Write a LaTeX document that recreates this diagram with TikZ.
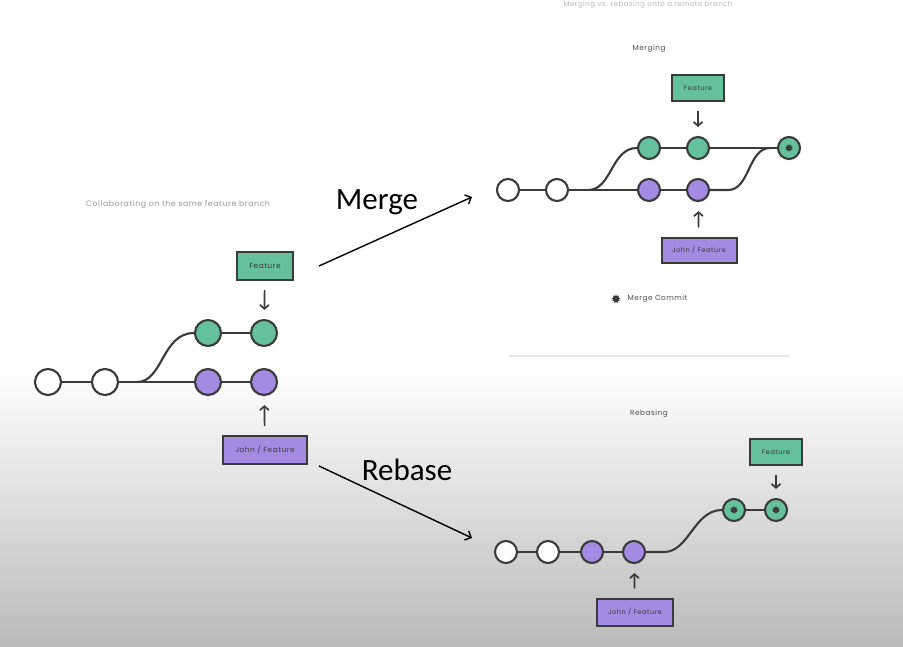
\documentclass[tikz,border=0pt]{standalone}
\usepackage{fontspec}
\setmainfont{Poppins}
\newfontfamily\bigfont{Carlito}
\newfontfamily\labelfont[LetterSpace=7]{Poppins}
\usetikzlibrary{arrows,arrows.meta,shapes.geometric}
\definecolor{featgreen}{RGB}{100,193,155}
\definecolor{johnpurple}{RGB}{164,138,226}
\definecolor{linegray}{RGB}{58,58,58}
\definecolor{captiongray}{RGB}{150,150,150}
\definecolor{floorgray}{RGB}{186,186,186}
\tikzset{
     commit/.style = {circle, draw=linegray, line width=2.1pt, inner sep=0pt, minimum size=22pt},
     big/.style = {minimum size=26pt},
     newc/.style = {fill=white},
     greenc/.style = {fill=featgreen},
     purplec/.style = {fill=johnpurple},
     mergestar/.style = {star, star points=9, star point ratio=1.6, fill=linegray, inner sep=0pt, minimum size=8pt},
     branchbox/.style = {draw=linegray, line width=2pt, text=linegray, font=\labelfont\fontsize{7.4}{8}\selectfont},
     history/.style = {linegray, line width=2.1pt},
     pointer/.style = {linegray, -{Straight Barb[length=4pt, width=9pt]}, line width=1.7pt, shorten <=9pt, shorten >=9pt},
     bigarrow/.style = {black, -{Straight Barb[length=5pt, width=10pt]}, line width=1.4pt},
     caption/.style = {text=captiongray, font=\labelfont\fontsize{7.8}{9}\selectfont},
     heading/.style = {text=linegray!90, font=\labelfont\fontsize{7.3}{8}\selectfont},
    }
\begin{document}
\begin{tikzpicture}[x=1pt, y=-1pt]
      \useasboundingbox (0,0) rectangle (903,646);
      \fill[white] (0,0) rectangle (903,372);
      \shade[top color=white, bottom color=floorgray] (0,370) rectangle (903,646);

      % collaborating on the same feature branch
      \node [caption] (lcap) at (178,205) {Collaborating on the same feature branch};
      \node [commit, big, newc] (lw1) at (48,382) {};
      \node [commit, big, newc] (lw2) at (105,382) {};
      \node [commit, big, purplec] (lp1) at (208,382) {};
      \node [commit, big, purplec] (lp2) at (264,382) {};
      \node [commit, big, greenc] (lg1) at (208,333) {};
      \node [commit, big, greenc] (lg2) at (264,333) {};
      \node [branchbox, fill=featgreen, minimum width=56pt, minimum height=28pt] (lfeat) at (265,266) {Feature};
      \node [branchbox, fill=johnpurple, minimum width=84pt, minimum height=28pt] (ljohn) at (265,450) {John / Feature};
      \coordinate (lfork) at (137,382);
      \draw[history] (lw1) -- (lw2) -- (lp1) -- (lp2);
      \draw[history] (lg1) -- (lg2);
      \draw[history] (lfork) .. controls +(26,0) and +(-32,0) .. (lg1.west);
      \draw[pointer] (lfeat) -- (lg2);
      \draw[pointer] (ljohn) -- (lp2);

      % the two ways out
      \coordinate (mergefrom) at (319,266);
      \coordinate (mergeto) at (472,197);
      \coordinate (rebasefrom) at (319,466);
      \coordinate (rebaseto) at (472,538);
      \draw[bigarrow] (mergefrom) -- (mergeto);
      \draw[bigarrow] (rebasefrom) -- (rebaseto);
      \node [font=\bigfont\fontsize{31}{32}\selectfont] (mergelabel) at (377,202) {Merge};
      \node [font=\bigfont\fontsize{31}{32}\selectfont] (rebaselabel) at (407,470) {Rebase};

      % merging
      \node [caption, text=captiongray!70, font=\labelfont\fontsize{7}{8}\selectfont] (title) at (648,5) {Merging vs. rebasing onto a remote branch};
      \node [heading] (mhead) at (649,49) {Merging};
      \node [commit, newc] (mw1) at (508,190) {};
      \node [commit, newc] (mw2) at (557,190) {};
      \node [commit, purplec] (mp1) at (649,190) {};
      \node [commit, purplec] (mp2) at (698,190) {};
      \node [commit, greenc] (mg1) at (649,148) {};
      \node [commit, greenc] (mg2) at (698,148) {};
      \node [commit, greenc] (mm) at (789,148) {};
      \node [mergestar] (mmstar) at (mm) {};
      \node [branchbox, fill=featgreen, minimum width=52pt, minimum height=26pt, font=\labelfont\fontsize{6.7}{7}\selectfont] (mfeat) at (698,88) {Feature};
      \node [branchbox, fill=johnpurple, minimum width=75pt, minimum height=25pt, font=\labelfont\fontsize{6.7}{7}\selectfont] (mjohn) at (699,250) {John / Feature};
      \coordinate (mfork) at (588,190);
      \coordinate (mjoin) at (728,190);
      \coordinate (mjoinend) at (770,148);
      \draw[history] (mw1) -- (mw2) -- (mp1) -- (mp2);
      \draw[history] (mg1) -- (mg2) -- (mm);
      \draw[history] (mfork) .. controls +(24,0) and +(-26,0) .. (mg1.west);
      \draw[history] (mp2) -- (mjoin) .. controls +(22,0) and +(-22,0) .. (mjoinend);
      \draw[pointer] (mfeat) -- (mg2);
      \draw[pointer] (mjohn) -- (mp2);
      \node [mergestar, minimum size=9pt] (legstar) at (616,299) {};
      \node [heading, anchor=west] (legtext) at (624,299) {Merge Commit};

      \coordinate (divleft) at (509,356);
      \coordinate (divright) at (789,356);
      \draw[black!9, line width=2pt] (divleft) -- (divright);

      % rebasing
      \node [heading] (rhead) at (649,414) {Rebasing};
      \node [commit, newc] (rw1) at (506,552) {};
      \node [commit, newc] (rw2) at (548,552) {};
      \node [commit, purplec] (rp1) at (592,552) {};
      \node [commit, purplec] (rp2) at (634,552) {};
      \node [commit, greenc] (rg1) at (734,510) {};
      \node [commit, greenc] (rg2) at (776,510) {};
      \node [mergestar] (rg1star) at (rg1) {};
      \node [mergestar] (rg2star) at (rg2) {};
      \node [branchbox, fill=featgreen, minimum width=52pt, minimum height=26pt, font=\labelfont\fontsize{6.7}{7}\selectfont] (rfeat) at (776,452) {Feature};
      \node [branchbox, fill=johnpurple, minimum width=76pt, minimum height=27pt, font=\labelfont\fontsize{6.7}{7}\selectfont] (rjohn) at (635,612) {John / Feature};
      \coordinate (rbend) at (664,552);
      \draw[history] (rw1) -- (rw2) -- (rp1) -- (rp2);
      \draw[history] (rp2) -- (rbend) .. controls +(25,0) and +(-28,0) .. (rg1.west);
      \draw[history] (rg1) -- (rg2);
      \draw[pointer] (rfeat) -- (rg2);
      \draw[pointer] (rjohn) -- (rp2);
\end{tikzpicture}
\end{document}
